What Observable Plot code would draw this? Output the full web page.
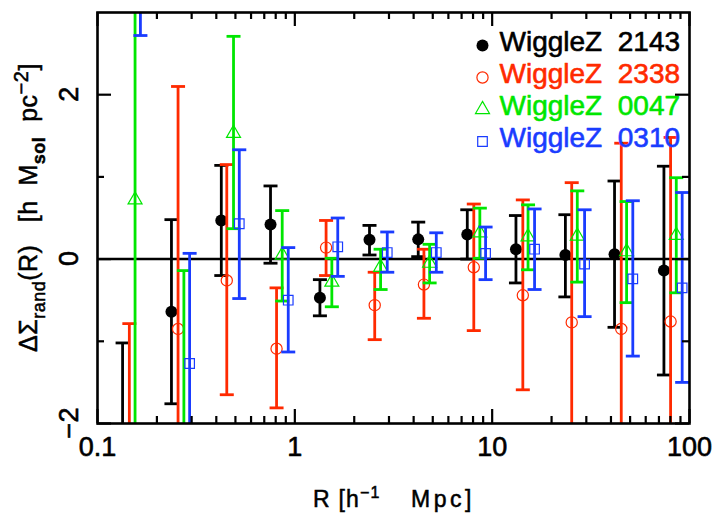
<!DOCTYPE html>
<html>
<head>
<meta charset="utf-8">
<script src="https://cdn.jsdelivr.net/npm/d3@7"></script>
<script src="https://cdn.jsdelivr.net/npm/@observablehq/plot@0.6"></script>
<style>
  html, body { margin: 0; padding: 0; background: #fff; }
  svg text { white-space: pre; }
</style>
</head>
<body>
<div id="chart"></div>
<script>
// ---- data ----
const seriesNames = ["WiggleZ  2143", "WiggleZ  2338", "WiggleZ  0047", "WiggleZ  0310"];
const seriesColors = ["#000000", "#ff2a00", "#00e600", "#1a3cff"];

const R_2143 = [0.134, 0.237, 0.424, 0.753, 1.34, 2.39, 4.22, 7.48, 13.2, 23.5, 41.7, 74.2];
const Y_2143 = [-2.6, -0.64, 0.47, 0.42, -0.47, 0.235, 0.24, 0.30, 0.12, 0.05, 0.06, -0.14];
const HI_2143 = [-1.02, 0.48, 1.14, 0.89, -0.25, 0.41, 0.45, 0.60, 0.53, 0.54, 0.95, 1.13];
const LO_2143 = [-4.2, -1.76, -0.20, -0.05, -0.69, 0.05, 0.03, 0.00, -0.29, -0.46, -0.83, -1.41];

const R_2338 = [0.145, 0.256, 0.452, 0.808, 1.44, 2.54, 4.51, 8.07, 14.3, 25.3, 45.1, 80.2];
const Y_2338 = [-2.4, -0.85, -0.26, -1.09, 0.14, -0.56, -0.31, -0.10, -0.44, -0.77, -0.85, -0.76];
const HI_2338 = [-0.785, 2.10, 1.15, -0.35, 0.47, -0.16, 0.12, 0.67, 0.72, 0.93, 1.41, 1.48];
const LO_2338 = [-4.0, -3.8, -1.65, -1.81, -0.20, -0.98, -0.72, -0.87, -1.59, -2.47, -3.11, -3.0];

const R_0047 = [0.155, 0.274, 0.489, 0.863, 1.54, 2.72, 4.82, 8.66, 15.2, 27.0, 48.0, 85.7];
const Y_0047 = [0.72, -2.3, 1.53, 0.05, -0.28, -0.10, -0.05, 0.32, 0.27, 0.28, 0.09, 0.29];
const HI_0047 = [4.5, -0.14, 2.71, 0.59, 0.01, 0.12, 0.18, 0.62, 0.66, 0.83, 0.70, 0.99];
const LO_0047 = [-3.1, -4.5, 0.37, -0.51, -0.58, -0.37, -0.29, 0.01, -0.13, -0.28, -0.53, -0.41];

const R_0310 = [0.165, 0.293, 0.523, 0.926, 1.65, 2.94, 5.21, 9.26, 16.4, 29.4, 51.6, 91.8];
const Y_0310 = [3.6, -1.27, 0.43, -0.50, 0.15, 0.08, 0.08, 0.07, 0.12, -0.06, -0.24, -0.35];
const HI_0310 = [4.5, 0.07, 1.33, 0.14, 0.50, 0.33, 0.32, 0.39, 0.61, 0.60, 0.71, 0.81];
const LO_0310 = [2.72, -2.61, -0.48, -1.13, -0.21, -0.16, -0.16, -0.25, -0.37, -0.70, -1.18, -1.50];

const xMajorTicks = [0.1, 1, 10, 100];
const xTickLabels = ["0.1", "1", "10", "100"];
const xMinorTicks = [0.2,0.3,0.4,0.5,0.6,0.7,0.8,0.9, 2,3,4,5,6,7,8,9, 20,30,40,50,60,70,80,90];
const yMajorTicks = [-2, 0, 2];
const yTickLabels = ["\u22122", "0", "2"];
const yMinorTicks = [-1, 1];

// ---- build ----
const W = 715, H = 519;
const mL = 97, mR = 26, mT = 12, mB = 96;
const frameW = W - mL - mR, frameH = H - mT - mB;
const FONT = "'Liberation Sans', Arial, Helvetica, sans-serif";

const allR = [R_2143, R_2338, R_0047, R_0310];
const allY = [Y_2143, Y_2338, Y_0047, Y_0310];
const allHi = [HI_2143, HI_2338, HI_0047, HI_0310];
const allLo = [LO_2143, LO_2338, LO_0047, LO_0310];
const symbols = ["circle", "circle", "triangle", "square"];
const symR = [6, 5.6, 5.2, 5.4];

const capSymbol = {
  draw(ctx, size) {
    const w = Math.sqrt(size / Math.PI);
    ctx.moveTo(-w, 0);
    ctx.lineTo(w, 0);
  }
};

const marks = [];
marks.push(Plot.ruleY([0], {stroke: "black", strokeWidth: 2.5}));

seriesNames.forEach((name, s) => {
  const rows = allR[s].map((r, i) => ({R: r, y: allY[s][i], lo: allLo[s][i], hi: allHi[s][i]}));
  const color = seriesColors[s];
  marks.push(Plot.ruleX(rows, {x: "R", y1: "lo", y2: "hi", stroke: color, strokeWidth: 2.8, clip: true}));
  marks.push(Plot.dot(rows, {x: "R", y: "hi", symbol: capSymbol, r: 7, stroke: color, strokeWidth: 2.8, fill: "none", clip: true}));
  marks.push(Plot.dot(rows, {x: "R", y: "lo", symbol: capSymbol, r: 7, stroke: color, strokeWidth: 2.8, fill: "none", clip: true}));
  if (s === 0) {
    marks.push(Plot.dot(rows, {x: "R", y: "y", symbol: "circle", r: symR[s], fill: color, stroke: "none", clip: true}));
  } else {
    marks.push(Plot.dot(rows, {x: "R", y: "y", symbol: symbols[s], r: symR[s], fill: "none", stroke: color, strokeWidth: 1.2, clip: true}));
  }
  // legend entry
  const dy = 33 + s * 32;
  if (s === 0) {
    marks.push(Plot.dot([name], {frameAnchor: "top-left", dx: 385, dy: dy, symbol: "circle", r: symR[s], fill: color, stroke: "none"}));
  } else {
    marks.push(Plot.dot([name], {frameAnchor: "top-left", dx: 385, dy: dy, symbol: symbols[s], r: symR[s], fill: "none", stroke: color, strokeWidth: 1.2}));
  }
  marks.push(Plot.text([name], {frameAnchor: "top-left", dx: 402, dy: dy - 3, text: d => d, textAnchor: "start", lineAnchor: "middle", fill: color, stroke: color, strokeWidth: 0.6, fontSize: 28, fontFamily: FONT}));
});

// ticks (inward) on all four sides
const bigT = 14, smallT = 7;
marks.push(Plot.tickX(xMajorTicks, {x: d => d, insetTop: frameH - bigT, stroke: "black", strokeWidth: 2.2}));
marks.push(Plot.tickX(xMajorTicks, {x: d => d, insetBottom: frameH - bigT, stroke: "black", strokeWidth: 2.2}));
marks.push(Plot.tickX(xMinorTicks, {x: d => d, insetTop: frameH - smallT, stroke: "black", strokeWidth: 2.2}));
marks.push(Plot.tickX(xMinorTicks, {x: d => d, insetBottom: frameH - smallT, stroke: "black", strokeWidth: 2.2}));
marks.push(Plot.tickY(yMajorTicks, {y: d => d, insetRight: frameW - bigT, stroke: "black", strokeWidth: 2.2}));
marks.push(Plot.tickY(yMajorTicks, {y: d => d, insetLeft: frameW - bigT, stroke: "black", strokeWidth: 2.2}));
marks.push(Plot.tickY(yMinorTicks, {y: d => d, insetRight: frameW - smallT, stroke: "black", strokeWidth: 2.2}));
marks.push(Plot.tickY(yMinorTicks, {y: d => d, insetLeft: frameW - smallT, stroke: "black", strokeWidth: 2.2}));

// x tick labels
marks.push(Plot.text(xMajorTicks, {x: d => d, frameAnchor: "bottom", dy: 32, text: (d, i) => xTickLabels[i], lineAnchor: "bottom", fontSize: 27, fontFamily: FONT, fill: "black", stroke: "black", strokeWidth: 0.6}));

marks.push(Plot.frame({stroke: "black", strokeWidth: 2.6}));

const chart = Plot.plot({
  width: W, height: H,
  marginLeft: mL, marginRight: mR, marginTop: mT, marginBottom: mB,
  x: {type: "log", domain: [0.1, 100], axis: null},
  y: {domain: [-2, 3], axis: null},
  style: {background: "white", fontFamily: FONT, overflow: "visible"},
  marks
});

const svg = d3.select(chart);

// rotated y tick labels, positioned with Plot's own y scale
const yScale = chart.scale("y");
yMajorTicks.forEach((v, i) => {
  svg.append("text")
    .attr("transform", `translate(${mL - 19},${yScale.apply(v)}) rotate(-90)`)
    .attr("text-anchor", "middle")
    .attr("font-family", FONT).attr("font-size", 27)
    .attr("fill", "black").attr("stroke", "black").attr("stroke-width", 0.6)
    .text(yTickLabels[i]);
});

// axis titles with sub/superscripts
const xl = svg.append("text")
  .attr("x", 313).attr("y", 507)
  .attr("text-anchor", "start")
  .attr("font-family", FONT).attr("font-size", 23).attr("fill", "black")
  .attr("stroke", "black").attr("stroke-width", 0.5)
  .attr("letter-spacing", 1.2);
xl.append("tspan").text("R [h");
xl.append("tspan").attr("font-size", 16).attr("dy", -9).text("\u22121");
xl.append("tspan").attr("dy", 9).text("    ");
xl.append("tspan").attr("letter-spacing", 3.5).text("Mpc]");

const yl = svg.append("text")
  .attr("transform", "translate(37,352) rotate(-90)")
  .attr("text-anchor", "start")
  .attr("font-family", FONT).attr("font-size", 25).attr("fill", "black")
  .attr("stroke", "black").attr("stroke-width", 0.5)
  .attr("letter-spacing", 0.5);
yl.append("tspan").text("\u0394\u03a3");
yl.append("tspan").attr("font-size", 18).attr("dy", 8).text("rand");
yl.append("tspan").attr("dy", -8).text("(R)   [h  M");
yl.append("tspan").attr("font-size", 18).attr("dy", 8).attr("font-weight", "bold").text("sol");
yl.append("tspan").attr("dy", -8).text("  pc");
yl.append("tspan").attr("font-size", 20).attr("dy", -9).text("\u22122");
yl.append("tspan").attr("dy", 9).text("]");

document.getElementById("chart").appendChild(chart);
</script>
</body>
</html>
